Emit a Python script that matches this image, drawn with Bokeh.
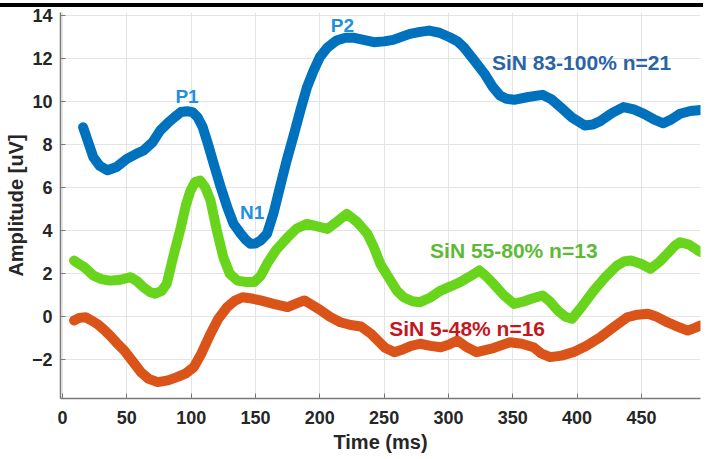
from bokeh.plotting import figure
from bokeh.layouts import column
from bokeh.models import Div, Range1d, Label, FixedTicker
from bokeh.embed import file_html
from bokeh.resources import INLINE

# Grand-average waveforms (time in ms, amplitude in uV)
blue_t = [16, 20, 24, 29, 35, 42, 50, 57, 63, 70, 76, 82, 87, 92, 97, 101, 105, 109, 113, 118, 123, 128,
          133, 138, 142, 146, 150, 154, 159, 164, 169, 174, 180, 185, 190, 195, 200, 206, 213, 220, 226,
          234, 242, 250, 257, 264, 270, 278, 285, 293, 301, 307, 312, 320, 328, 334, 340, 345, 351, 362,
          373, 380, 387, 396, 406, 412, 418, 427, 436, 444, 452, 460, 467, 473, 480, 488, 496]
blue_y = [8.8, 8.1, 7.4, 7.0, 6.8, 6.95, 7.33, 7.55, 7.72, 8.1, 8.65, 9.0, 9.26, 9.5, 9.54, 9.5, 9.26, 8.8,
          8.03, 7.0, 6.01, 5.1, 4.31, 3.9, 3.6, 3.39, 3.4, 3.54, 3.85, 4.8, 6.01, 7.2, 8.49, 9.6, 10.65,
          11.4, 12.05, 12.5, 12.82, 12.95, 12.95, 12.85, 12.74, 12.78, 12.85, 13.0, 13.13, 13.22, 13.28,
          13.18, 12.97, 12.78, 12.5, 11.9, 11.28, 10.7, 10.27, 10.12, 10.07, 10.2, 10.3, 10.1, 9.73, 9.25,
          8.88, 8.92, 9.08, 9.45, 9.73, 9.62, 9.42, 9.15, 8.98, 9.15, 9.42, 9.55, 9.6]

green_t = [9, 13, 17, 24, 30, 37, 45, 53, 58, 63, 68, 72, 77, 81, 86, 92, 96, 99.5, 103, 107, 111, 115,
           120, 125, 130, 136, 142, 149, 154, 159, 166, 175, 182, 190, 198, 206, 213, 221, 229, 237, 242,
           247, 255, 260, 265, 272, 278, 286, 294, 302, 309, 316, 324, 329, 335, 343, 351, 358, 365, 373,
           379, 385, 391, 396, 404, 413, 422, 431, 437, 442, 450, 457, 464, 470, 476, 480, 487, 496]
green_y = [2.61, 2.45, 2.3, 1.92, 1.75, 1.68, 1.72, 1.84, 1.65, 1.37, 1.15, 1.07, 1.2, 1.53, 2.77, 4.16,
           5.2, 5.86, 6.25, 6.32, 6.0, 5.4, 4.0, 2.77, 2.0, 1.68, 1.62, 1.61, 1.9, 2.46, 3.1, 3.69, 4.1,
           4.31, 4.2, 4.08, 4.4, 4.78, 4.4, 3.85, 3.23, 2.46, 1.68, 1.2, 0.91, 0.72, 0.68, 0.9, 1.22, 1.42,
           1.61, 1.85, 2.15, 1.9, 1.53, 1.0, 0.6, 0.7, 0.85, 0.99, 0.7, 0.29, 0.0, -0.09, 0.5, 1.22, 1.85,
           2.38, 2.58, 2.61, 2.45, 2.23, 2.55, 2.92, 3.3, 3.46, 3.35, 3.0]

red_t = [9, 13, 18, 22, 27, 32, 37, 42, 48, 55, 61, 67, 74, 82, 89, 96, 102, 108, 115, 121, 128, 134, 140,
         147, 154, 164, 175, 182, 188, 194, 201, 208, 216, 224, 232, 240, 245, 251, 258, 265, 271, 278,
         286, 294, 300, 307, 314, 322, 335, 348, 357, 366, 372, 379, 388, 397, 407, 418, 428, 439, 447,
         455, 462, 470, 478, 486, 492, 496]
red_y = [-0.17, -0.05, -0.02, -0.15, -0.33, -0.58, -0.87, -1.2, -1.56, -2.1, -2.57, -2.88, -3.03, -2.95,
         -2.8, -2.62, -2.34, -1.7, -0.79, -0.1, 0.45, 0.75, 0.91, 0.85, 0.76, 0.6, 0.45, 0.62, 0.76, 0.55,
         0.29, 0.0, -0.25, -0.38, -0.45, -0.8, -1.1, -1.45, -1.64, -1.5, -1.35, -1.25, -1.35, -1.41, -1.3,
         -1.1, -1.4, -1.64, -1.45, -1.18, -1.25, -1.41, -1.7, -1.87, -1.8, -1.64, -1.35, -0.95, -0.5,
         -0.02, 0.1, 0.14, 0.0, -0.25, -0.45, -0.64, -0.5, -0.4]

x_ticks = [0, 50, 100, 150, 200, 250, 300, 350, 400, 450]
y_ticks = [-2, 0, 2, 4, 6, 8, 10, 12, 14]

FONT = "Liberation Sans"
TICK_COLOR = "#262626"

p = figure(width=709, height=452, output_backend="svg", toolbar_location=None,
           x_range=Range1d(-1.55, 495.9), y_range=Range1d(-3.79, 14.12),
           min_border_left=60, min_border_right=9, min_border_top=5, min_border_bottom=61)
p.outline_line_color = None
p.background_fill_color = "white"

for ax in (p.xaxis[0], p.yaxis[0]):
    ax.axis_line_color = "#7a7a7a"
    ax.axis_line_width = 1.5
    ax.major_tick_line_color = "#7a7a7a"
    ax.major_tick_in = 5
    ax.major_tick_out = 0
    ax.minor_tick_line_color = None
    ax.major_label_text_font = FONT
    ax.major_label_text_font_style = "bold"
    ax.major_label_text_font_size = "18px"
    ax.major_label_text_color = TICK_COLOR
    ax.axis_label_text_font = FONT
    ax.axis_label_text_font_style = "bold"
    ax.axis_label_text_font_size = "20px"
    ax.axis_label_text_color = TICK_COLOR

p.xaxis.ticker = FixedTicker(ticks=x_ticks)
p.yaxis.ticker = FixedTicker(ticks=y_ticks)
p.xaxis.axis_label = "Time (ms)"
p.yaxis.axis_label = "Amplitude [uV]"
p.xaxis.major_label_standoff = 12
p.yaxis.major_label_standoff = 8
p.xaxis.axis_label_standoff = 4
p.yaxis.axis_label_standoff = 2

p.xgrid.grid_line_color = "#e4e4e4"
p.ygrid.grid_line_color = "#e4e4e4"
p.xgrid.ticker = FixedTicker(ticks=x_ticks)
p.ygrid.ticker = FixedTicker(ticks=y_ticks)

lw = 10
p.line(red_t, red_y, line_color="#DA5419", line_width=lw, line_cap="round", line_join="round")
p.line(green_t, green_y, line_color="#68D41C", line_width=lw, line_cap="round", line_join="round")
p.line(blue_t, blue_y, line_color="#0072BD", line_width=lw, line_cap="round", line_join="round")

def label(x, y, text, color, size):
    p.add_layout(Label(x=x, y=y, text=text, text_color=color, text_font=FONT,
                       text_font_style="bold", text_font_size=size,
                       text_align="center", text_baseline="middle"))

label(96.8, 10.22, "P1", "#1E8FE3", "19px")
label(147.4, 4.84, "N1", "#1E8FE3", "19px")
label(217.6, 13.52, "P2", "#1E8FE3", "19px")
label(403.4, 11.8, "SiN 83-100% n=21", "#2A63A6", "21px")
label(350.8, 3.08, "SiN 55-80% n=13", "#5DBA35", "21px")
label(314.5, -0.56, "SiN 5-48% n=16", "#C5161D", "21px")

bar = Div(text="", width=703, height=4, margin=(3, 0, 0, 0),
          styles={"background-color": "black"})

layout = column(bar, p, spacing=0)
open("out.html", "w").write(file_html(layout, INLINE))
